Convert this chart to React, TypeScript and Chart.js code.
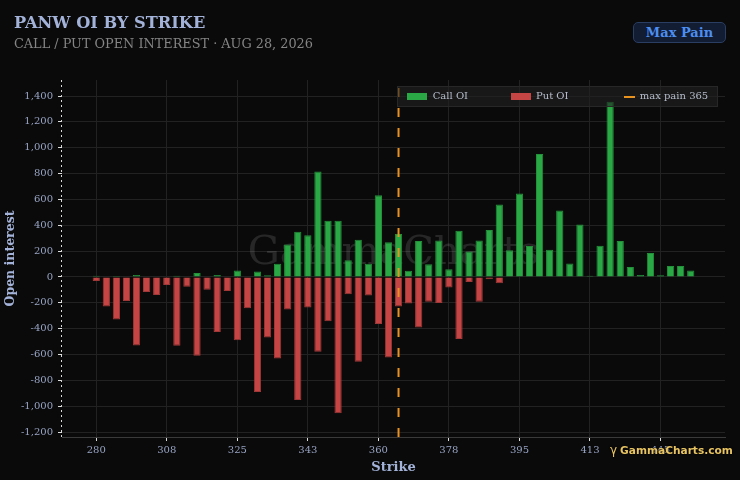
import React, { useEffect, useRef } from 'react';
import { Chart, registerables } from 'chart.js';

Chart.register(...registerables);

const STRIKES = [
  280, 285, 290, 295, 297.5, 300, 305, 307.5, 310, 312.5,
  315, 317.5, 320, 322.5, 325, 327.5, 330, 332.5, 335, 337.5,
  340, 342.5, 345, 347.5, 350, 352.5, 355, 357.5, 360, 362.5,
  365, 367.5, 370, 372.5, 375, 377.5, 380, 382.5, 385, 387.5,
  390, 392.5, 395, 397.5, 400, 402.5, 405, 407.5, 410, 412.5,
  415, 420, 425, 430, 435, 440, 445, 450, 455, 460,
];

const CALL_OI = [
  10, 0, 8, 0, 15, 0, 0, 0, 10, 0,
  31, 0, 15, 0, 51, 0, 42, 14, 103, 252,
  350, 322, 816, 435, 435, 129, 288, 103, 633, 268,
  332, 49, 278, 98, 283, 59, 358, 198, 283, 363,
  561, 206, 646, 239, 952, 211, 514, 105, 406, 10,
  242, 1355, 278, 77, 15, 185, 13, 85, 85, 51,
];

const PUT_OI = [
  -31, -229, -329, -185, -530, -116, -139, -62, -532, -75,
  -610, -98, -425, -108, -489, -242, -889, -468, -630, -252,
  -952, -237, -579, -342, -1055, -134, -656, -144, -363, -623,
  -229, -206, -390, -191, -201, -82, -479, -39, -191, -18,
  -49, 0, 0, 0, 0, 0, 0, 0, 0, 0,
  0, 0, 0, 0, 0, 0, 0, 0, 0, 0,
];

const X_TICK_STRIKES = [280, 307.5, 325, 342.5, 360, 377.5, 395, 412.5, 445];
const Y_TICKS = [-1200, -1000, -800, -600, -400, -200, 0, 200, 400, 600, 800, 1000, 1200, 1400];
const MAX_PAIN = 365;

const SERIF = "'DejaVu Serif', serif";
const TICK_COLOR = '#98a4c4';
const TITLE_COLOR = '#a3b2d8';

export default function App() {
  const ref = useRef<HTMLCanvasElement>(null);

  useEffect(() => {
    const canvas = ref.current;
    if (!canvas) return;

    const watermark = {
      id: 'watermark',
      beforeDatasetsDraw(chart: any) {
        const { ctx, chartArea } = chart;
        ctx.save();
        ctx.font = `40px ${SERIF}`;
        ctx.fillStyle = 'rgba(255,255,255,0.12)';
        ctx.textAlign = 'center';
        ctx.textBaseline = 'middle';
        ctx.fillText('GammaCharts', (chartArea.left + chartArea.right) / 2, 254);
        ctx.restore();
      },
    };

    const dottedYAxis = {
      id: 'dottedYAxis',
      afterDraw(chart: any) {
        const { ctx, chartArea } = chart;
        ctx.save();
        ctx.strokeStyle = '#d8d8d8';
        ctx.lineWidth = 1;
        ctx.setLineDash([2, 3]);
        ctx.beginPath();
        ctx.moveTo(chartArea.left - 0.5, chartArea.top);
        ctx.lineTo(chartArea.left - 0.5, chartArea.bottom);
        ctx.stroke();
        ctx.restore();
      },
    };

    const maxPainLine = {
      id: 'maxPainLine',
      afterDatasetsDraw(chart: any) {
        const { ctx, chartArea, scales } = chart;
        const x = scales.x.getPixelForValue(STRIKES.indexOf(MAX_PAIN));
        ctx.save();
        ctx.strokeStyle = '#e8921f';
        ctx.lineWidth = 2;
        ctx.setLineDash([9, 11]);
        ctx.beginPath();
        ctx.moveTo(x, chartArea.bottom);
        ctx.lineTo(x, chartArea.top);
        ctx.stroke();
        ctx.restore();
      },
    };

    const chart = new Chart(canvas, {
      type: 'bar',
      data: {
        datasets: [
          {
            label: 'Call OI',
            data: CALL_OI.map((v, i) => ({ x: i, y: v })),
            backgroundColor: '#2aa845',
            borderColor: '#22913a',
            borderWidth: 1,
          },
          {
            label: 'Put OI',
            data: PUT_OI.map((v, i) => ({ x: i, y: v })),
            backgroundColor: '#c54545',
            borderColor: '#a13737',
            borderWidth: 1,
          },
        ],
      },
      options: {
        animation: false,
        responsive: false,
        maintainAspectRatio: false,
        layout: { padding: { top: 80, right: 15, bottom: 1, left: 0 } },
        plugins: {
          legend: { display: false },
          tooltip: { enabled: false },
        },
        scales: {
          x: {
            type: 'linear',
            stacked: true,
            offset: false,
            min: -3.4,
            max: STRIKES.length - 1 + 3.4,
            afterBuildTicks: (s: any) => {
              s.ticks = X_TICK_STRIKES.map((k) => ({ value: STRIKES.indexOf(k) }));
            },
            afterFit: (s: any) => {
              s.height = 42;
            },
            ticks: {
              callback: (v: any) => String(Math.round(STRIKES[v as number])),
              color: TICK_COLOR,
              font: { family: SERIF, size: 10 },
              maxRotation: 0,
              padding: 3,
            },
            grid: { offset: false, color: '#222222', tickColor: '#dddddd', tickLength: 4 },
            border: { color: '#3a3a3a', width: 1 },
            title: {
              display: true,
              text: 'Strike',
              color: TITLE_COLOR,
              font: { family: SERIF, size: 13, weight: 'bold' },
              padding: { top: 2, bottom: 4 },
            },
          },
          y: {
            stacked: true,
            min: -1238,
            max: 1524,
            afterBuildTicks: (s: any) => {
              s.ticks = Y_TICKS.map((v) => ({ value: v }));
            },
            afterFit: (s: any) => {
              s.width = 62;
            },
            ticks: {
              callback: (v: any) => Number(v).toLocaleString('en-US'),
              color: TICK_COLOR,
              font: { family: SERIF, size: 10 },
              padding: 5,
            },
            grid: { color: '#222222', tickColor: '#dddddd', tickLength: 4 },
            border: { display: false },
            title: {
              display: true,
              text: 'Open interest',
              color: TITLE_COLOR,
              font: { family: SERIF, size: 12.5, weight: 'bold' },
              padding: { top: 3, bottom: 2 },
            },
          },
        },
      },
      plugins: [watermark, maxPainLine, dottedYAxis],
    } as any);

    return () => chart.destroy();
  }, []);

  const legendText: React.CSSProperties = {
    position: 'absolute',
    top: 3.8,
    fontFamily: SERIF,
    fontSize: 10,
    lineHeight: '10px',
    color: '#b6bdcc',
    whiteSpace: 'nowrap',
  };

  return (
    <div style={{ position: 'relative', width: 740, height: 480, background: '#0a0a0a', overflow: 'hidden' }}>
      <style>{`html,body{margin:0;padding:0;background:#0a0a0a;}`}</style>
      <canvas ref={ref} width={740} height={480} style={{ display: 'block', width: 740, height: 480 }} />

      <div
        style={{
          position: 'absolute', left: 14, top: 14, fontFamily: SERIF, fontWeight: 'bold',
          fontSize: 16.2, lineHeight: '17px', color: TITLE_COLOR, whiteSpace: 'nowrap',
        }}
      >
        PANW OI BY STRIKE
      </div>
      <div
        style={{
          position: 'absolute', left: 14, top: 37.3, fontFamily: SERIF,
          fontSize: 12.85, lineHeight: '13px', color: '#858585', whiteSpace: 'nowrap',
        }}
      >
        CALL / PUT OPEN INTEREST · AUG 28, 2026
      </div>

      <div
        style={{
          position: 'absolute', left: 633, top: 22, width: 93, height: 21, boxSizing: 'border-box',
          background: '#121d33', border: '1px solid #2a3d62', borderRadius: 5,
          display: 'flex', alignItems: 'center', justifyContent: 'center',
          fontFamily: SERIF, fontWeight: 'bold', fontSize: 13, color: '#4d8ff0',
        }}
      >
        Max Pain
      </div>

      <div
        style={{
          position: 'absolute', left: 397, top: 86, width: 321, height: 21, boxSizing: 'border-box',
          background: 'rgba(34,34,34,0.6)', border: '1px solid #272727',
        }}
      >
        <div style={{ position: 'absolute', left: 9, top: 6.3, width: 20, height: 7, background: '#2aa845' }} />
        <div style={{ ...legendText, left: 34.7 }}>Call OI</div>
        <div style={{ position: 'absolute', left: 113, top: 6.3, width: 20, height: 7, background: '#c54545' }} />
        <div style={{ ...legendText, left: 138 }}>Put OI</div>
        <div style={{ position: 'absolute', left: 226.3, top: 9, width: 10.4, height: 2, background: '#e8921f' }} />
        <div style={{ ...legendText, left: 241.7 }}>max pain 365</div>
      </div>

      <div
        style={{
          position: 'absolute', left: 610, top: 444.5, fontFamily: "'DejaVu Sans', sans-serif",
          fontWeight: 'bold', fontSize: 10.6, lineHeight: '11px', color: '#e8c462',
          whiteSpace: 'nowrap', textShadow: '0 0 2px #000, 0 0 1px #000',
        }}
      >
        <span style={{ fontWeight: 'normal', fontSize: 12, marginRight: 3 }}>γ</span>
        GammaCharts.com
      </div>
    </div>
  );
}
